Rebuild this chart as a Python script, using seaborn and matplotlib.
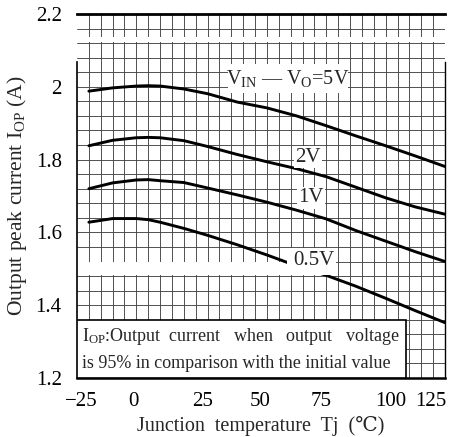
import numpy as np
import pandas as pd
import seaborn as sns
import matplotlib
matplotlib.use("Agg")
import matplotlib.pyplot as plt
import matplotlib.transforms as mtransforms
from matplotlib.patches import Rectangle

# ---- data ----
temps = [-25, -15, -5, 0, 5, 15, 25, 37.5, 50, 62.5, 75, 87.5, 100, 112.5, 125]
curve_5v = [1.988, 1.997, 2.002, 2.003, 2.002, 1.994, 1.981, 1.958, 1.942, 1.920, 1.893, 1.865, 1.838, 1.810, 1.781]
curve_2v = [1.838, 1.853, 1.860, 1.861, 1.860, 1.852, 1.836, 1.814, 1.794, 1.775, 1.753, 1.724, 1.695, 1.670, 1.650]
curve_1v = [1.720, 1.736, 1.744, 1.745, 1.742, 1.737, 1.722, 1.703, 1.683, 1.661, 1.637, 1.605, 1.576, 1.547, 1.520]
curve_05v = [1.628, 1.638, 1.638, 1.635, 1.628, 1.611, 1.592, 1.566, 1.538, 1.508, 1.482, 1.452, 1.419, 1.385, 1.352]
series_names = ["5V", "2V", "1V", "0.5V"]

x_ticks = [-25, 0, 25, 50, 75, 100, 125]
x_tick_labels = ["\u221225", "0", "25", "50", "75", "100", "125"]
y_ticks = [1.2, 1.4, 1.6, 1.8, 2.0, 2.2]
y_tick_labels = ["1.2", "1.4", "1.6", "1.8", "2", "2.2"]

x_label = "Junction  temperature  Tj  (\u2103)"
y_label = "Output peak current I$_{\\mathregular{OP}}$ (A)"
label_5v = "V$_{\\mathregular{IN}}$ \u2014 V$_{\\mathregular{O}}$=5V"
note_line1 = "I$_{\\mathregular{OP}}$:Output  current   when   output   voltage"
note_line2 = "is 95% in comparison with the initial value"

df = pd.DataFrame({
    "T": temps * 4,
    "I": curve_5v + curve_2v + curve_1v + curve_05v,
    "series": sum([[n] * len(temps) for n in series_names], []),
})

sns.set_theme(style="white")
plt.rcParams["font.family"] = ["Liberation Serif", "DejaVu Serif"]
plt.rcParams["mathtext.fontset"] = "custom"
plt.rcParams["mathtext.rm"] = "Liberation Serif"
plt.rcParams["mathtext.it"] = "Liberation Serif:italic"

fig = plt.figure(figsize=(4.57, 4.37), dpi=100)
ax = fig.add_axes([0.1685, 0.135, 0.8052, 0.833])
ax.set_xlim(-30, 125)
ax.set_ylim(1.2, 2.2)

# grid
ax.set_xticks(np.arange(-25, 126, 5), minor=True)
ax.set_yticks(np.arange(1.2, 2.2001, 0.04), minor=True)
ax.set_xticks(x_ticks)
ax.set_xticklabels(x_tick_labels)
ax.set_yticks(y_ticks)
ax.set_yticklabels(y_tick_labels)
ax.grid(which="both", color="#444444", lw=0.65, zorder=0)
ax.set_axisbelow(True)
ax.tick_params(which="both", length=0)
ax.tick_params(axis="y", labelsize=15, pad=11, colors="black")
ax.tick_params(axis="x", labelsize=15, pad=10, colors="black")

# shift x tick labels slightly like the scanned original
x_label_shifts = [-8, -15, -5, -7, -5, 5, -14]
for lab, dx in zip(ax.get_xticklabels(), x_label_shifts):
    lab.set_transform(lab.get_transform() + mtransforms.ScaledTranslation(dx / 100, 0, fig.dpi_scale_trans))

# white occluding areas of the scanned chart
ax.add_patch(Rectangle((-30, 2.124), 155, 0.014, facecolor="white", edgecolor="none", zorder=1))
ax.add_patch(Rectangle((-30, 1.482), 88.5, 0.036, facecolor="white", edgecolor="none", zorder=1))
ax.add_patch(Rectangle((58.5, 1.482), 20.5, 0.075, facecolor="white", edgecolor="none", zorder=4))
ax.add_patch(Rectangle((33.6, 1.983), 50.6, 0.079, facecolor="white", edgecolor="none", zorder=4))

sns.lineplot(data=df, x="T", y="I", hue="series", hue_order=series_names,
             palette=["black"] * 4, lw=2.1, legend=False, ax=ax, zorder=3)

# curve labels
ax.text(58.9, 2.022, label_5v, fontsize=14.5, ha="center", va="center", zorder=5)
ax.text(67.3, 1.806, "2V", fontsize=15, ha="center", va="center", zorder=5,
        bbox=dict(facecolor="white", edgecolor="none", pad=1))
ax.text(68.6, 1.695, "1V", fontsize=15, ha="center", va="center", zorder=5,
        bbox=dict(facecolor="white", edgecolor="none", pad=1))
ax.text(69.8, 1.524, "0.5V", fontsize=15, ha="center", va="center", zorder=5)

# note box
ax.add_patch(Rectangle((-30, 1.2), 138.6, 0.158, facecolor="white", edgecolor="black", lw=1.2, zorder=6))
ax.text(-28, 1.313, note_line1, fontsize=13, ha="left", va="center", zorder=7)
ax.text(-28, 1.240, note_line2, fontsize=13, ha="left", va="center", zorder=7)

ax.set_xlabel(x_label, fontsize=14.5, labelpad=4)
ax.set_ylabel(y_label, fontsize=15.5, labelpad=5)

for s in ["left", "right", "bottom", "top"]:
    ax.spines[s].set_color("black")
ax.spines["bottom"].set_linewidth(1.8)
ax.spines["top"].set_linewidth(2.0)
ax.spines["left"].set_linewidth(1.2)
ax.spines["right"].set_linewidth(1.0)
ax.spines["left"].set_bounds(1.2, 2.068)
ax.spines["right"].set_bounds(1.2, 2.068)

fig.savefig("out.png", dpi=100, facecolor="white")
